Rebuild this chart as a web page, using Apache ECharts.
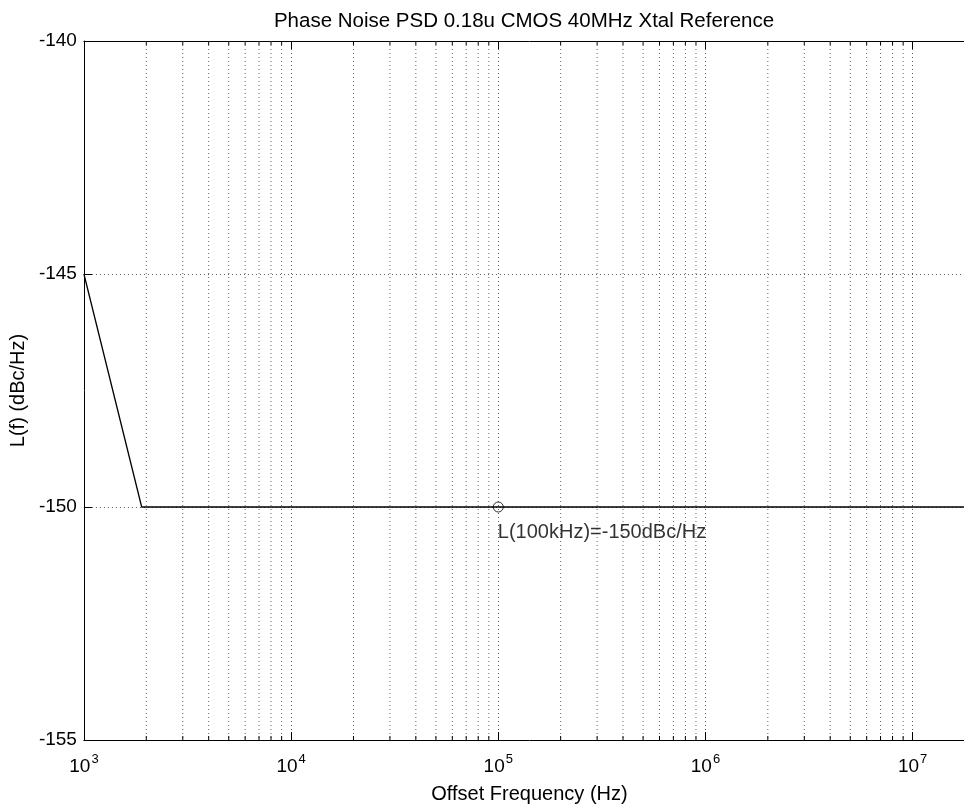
<!DOCTYPE html>
<html>
<head>
<meta charset="utf-8">
<script src="https://cdn.jsdelivr.net/npm/echarts@6/dist/echarts.min.js"></script>
<style>
html,body{margin:0;padding:0;background:#fff;overflow:hidden;width:964px;height:809px;}
#chart{width:976px;height:809px;}
</style>
</head>
<body>
<div id="chart"></div>
<script>
// ---- data ----
const freqHz = [1000, 1900, 20000000];
const psdDbc = [-145, -150, -150];
const markerFreq = [100000];
const markerPsd = [-150];
const markerText = 'L(100kHz)=-150dBc/Hz';
const xMin = 1000;
const xMax = 20000000;
const yMin = -155;
const yMax = -140;
const yStep = 5;
const decades = [1000, 10000, 100000, 1000000, 10000000];
const mantissas = [2, 3, 4, 5, 6, 7, 8, 9];
const titleText = 'Phase Noise PSD 0.18u CMOS 40MHz Xtal Reference';
const xName = 'Offset Frequency (Hz)';
const yName = 'L(f) (dBc/Hz)';

const minorFreqs = [];
decades.forEach(d => mantissas.forEach(m => { if (d * m < xMax) minorFreqs.push(d * m); }));

const FONT = 'Liberation Sans, Arial, Helvetica, sans-serif';
const chart = echarts.init(document.getElementById('chart'));

const gridDot = { color: '#555', type: [1, 3], width: 1 };

chart.setOption({
  backgroundColor: '#fff',
  animation: false,
  title: {
    text: titleText,
    left: 519, top: 6, textAlign: 'center',
    textStyle: { fontFamily: FONT, fontSize: 20.5, fontWeight: 'normal', color: '#000' }
  },
  grid: { left: 83, right: 1, top: 41, bottom: 68, containLabel: false },
  xAxis: [{
    type: 'log', logBase: 10, min: xMin, max: xMax, position: 'bottom',
    name: xName, nameLocation: 'middle', nameGap: 44,
    nameTextStyle: { fontFamily: FONT, fontSize: 20, color: '#000' },
    axisLine: { show: true, lineStyle: { color: '#000', width: 1 } },
    axisTick: { show: true, inside: true, length: 8, lineStyle: { color: '#000' } },
    splitLine: { show: true, lineStyle: gridDot },
    axisLabel: {
      margin: 13, showMaxLabel: false,
      formatter: v => '{b|10}{s|' + Math.round(Math.log10(v)) + '}',
      rich: {
        b: { fontFamily: FONT, fontSize: 19, color: '#000' },
        s: { fontFamily: FONT, fontSize: 13, color: '#000', padding: [0, 0, 15, 1] }
      }
    }
  }, {
    type: 'log', logBase: 10, min: xMin, max: xMax, position: 'top',
    axisLine: { show: true, lineStyle: { color: '#000', width: 1 } },
    axisTick: { show: true, inside: true, length: 8, lineStyle: { color: '#000' } },
    axisLabel: { show: false }, splitLine: { show: false }
  }],
  yAxis: {
    type: 'value', min: yMin, max: yMax, interval: yStep,
    name: yName, nameLocation: 'middle', nameGap: 46, nameRotate: 90,
    nameTextStyle: { fontFamily: FONT, fontSize: 20, color: '#000' },
    axisLine: { show: true, lineStyle: { color: '#000', width: 1 } },
    axisTick: { show: true, inside: true, length: 8, lineStyle: { color: '#000' } },
    splitLine: { show: true, lineStyle: gridDot },
    axisLabel: { margin: 7, fontFamily: FONT, fontSize: 19, color: '#000' }
  },
  series: [{
    type: 'custom', xAxisIndex: 0, silent: true, z: 1,
    data: minorFreqs.map(f => [f]),
    renderItem: (params, api) => {
      const x = api.coord([api.value(0), yMin])[0];
      const yb = api.coord([api.value(0), yMin])[1];
      const yt = api.coord([api.value(0), yMax])[1];
      return {
        type: 'group', children: [
          { type: 'line', shape: { x1: x, y1: yt, x2: x, y2: yb }, style: { stroke: '#666', lineWidth: 1, lineDash: [1, 3] } },
          { type: 'line', shape: { x1: x, y1: yb, x2: x, y2: yb - 4 }, style: { stroke: '#000', lineWidth: 1 } },
          { type: 'line', shape: { x1: x, y1: yt, x2: x, y2: yt + 4 }, style: { stroke: '#000', lineWidth: 1 } }
        ]
      };
    }
  }, {
    type: 'line', xAxisIndex: 0, z: 3,
    data: freqHz.map((f, i) => [f, psdDbc[i]]),
    symbol: 'none', lineStyle: { color: '#000', width: 1.3 }
  }, {
    type: 'scatter', xAxisIndex: 0, z: 4,
    data: markerFreq.map((f, i) => [f, markerPsd[i]]),
    symbol: 'circle', symbolSize: 10,
    itemStyle: { color: 'rgba(0,0,0,0)', borderColor: '#000', borderWidth: 1 },
    label: {
      show: true, formatter: markerText, position: [5, 21],
      fontFamily: FONT, fontSize: 20, color: '#000'
    }
  }]
});
</script>
</body>
</html>
